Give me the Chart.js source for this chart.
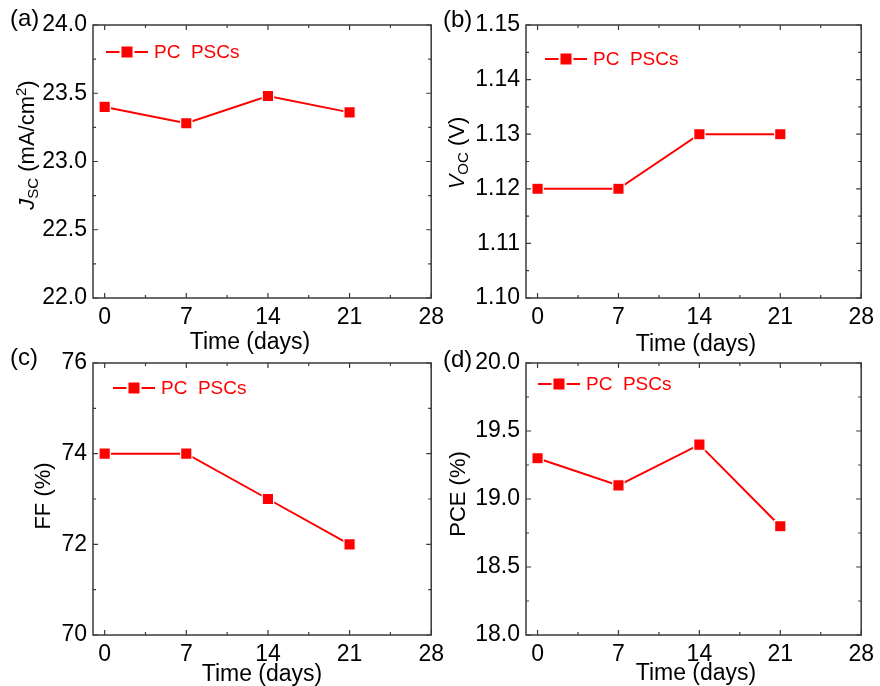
<!DOCTYPE html>
<html>
<head>
<meta charset="utf-8">
<script src="https://cdn.jsdelivr.net/npm/chart.js@4"></script>
<style>
  body { margin: 0; background: #fff; }
  #wrap { position: relative; width: 880px; height: 686px; font-family: "Liberation Sans", Arial, sans-serif; color: #000; }
  canvas { position: absolute; }
  .lbl { position: absolute; font-size: 24px; line-height: 24px; white-space: nowrap; }
  .xt { position: absolute; font-size: 23px; line-height: 22px; white-space: nowrap; transform: translateX(-50%); }
  .yt { position: absolute; font-size: 22px; line-height: 22px; white-space: nowrap; transform: translate(-50%, -50%) rotate(-90deg); }
  .yt sub, .yt sup { font-size: 15px; }
  .yt sub { vertical-align: -4px; }
  .yt sup { vertical-align: 8px; }
</style>
</head>
<body>
<div id="wrap">
  <canvas id="chart-a" width="450" height="345" style="left:0;top:0"></canvas>
  <canvas id="chart-b" width="440" height="345" style="left:440px;top:0"></canvas>
  <canvas id="chart-c" width="450" height="343" style="left:0;top:343px"></canvas>
  <canvas id="chart-d" width="440" height="343" style="left:440px;top:343px"></canvas>

  <div class="lbl" style="left:10px;top:6px">(a)</div>
  <div class="lbl" style="left:443px;top:7px">(b)</div>
  <div class="lbl" style="left:10px;top:345px">(c)</div>
  <div class="lbl" style="left:443px;top:347px">(d)</div>

  <div class="yt" style="left:27px;top:145px"><i>J</i><sub>SC</sub> (mA/cm<sup>2</sup>)</div>
  <div class="yt" style="left:460px;top:153px"><i>V</i><sub>OC</sub> (V)</div>
  <div class="yt" style="left:43px;top:496px">FF (%)</div>
  <div class="yt" style="left:458px;top:494px">PCE (%)</div>

  <div class="xt" style="left:250px;top:330px">Time (days)</div>
  <div class="xt" style="left:696px;top:332px">Time (days)</div>
  <div class="xt" style="left:262px;top:662px">Time (days)</div>
  <div class="xt" style="left:696px;top:661px">Time (days)</div>
</div>

<script>
// data
const days = [0, 7, 14, 21];
const jsc = [23.40, 23.28, 23.48, 23.36];
const voc = [1.12, 1.12, 1.13, 1.13];
const ff = [74, 74, 73, 72];
const pce = [19.3, 19.1, 19.4, 18.8];

// tick labels
const xTicks = [0, 7, 14, 21, 28];
const jscTicks = [22.0, 22.5, 23.0, 23.5, 24.0];
const vocTicks = [1.10, 1.11, 1.12, 1.13, 1.14, 1.15];
const ffTicks = [70, 72, 74, 76];
const pceTicks = [18.0, 18.5, 19.0, 19.5, 20.0];
const legendText = 'PC  PSCs';

const red = '#ff0000';
const frameColor = '#3a3a3a';
const fontName = '"Liberation Sans", Arial, sans-serif';

// frame, inward ticks and the legend
const frameAndTicks = {
  id: 'frameAndTicks',
  afterDraw(chart, args, opts) {
    const ctx = chart.ctx;
    const { left, right, top, bottom } = chart.chartArea;
    const x = chart.scales.x;
    const y = chart.scales.y;
    ctx.save();
    ctx.strokeStyle = frameColor;
    ctx.lineWidth = 1.5;
    ctx.strokeRect(left, top, right - left, bottom - top);

    ctx.lineWidth = 1.2;
    const xs = x.ticks.map(t => t.value);
    const ys = y.ticks.map(t => t.value);
    ctx.beginPath();
    xs.forEach((v, i) => {
      const p = x.getPixelForValue(v);
      ctx.moveTo(p, bottom); ctx.lineTo(p, bottom - 5);
      ctx.moveTo(p, top); ctx.lineTo(p, top + 5);
      if (i < xs.length - 1) {
        const m = x.getPixelForValue((v + xs[i + 1]) / 2);
        ctx.moveTo(m, bottom); ctx.lineTo(m, bottom - 3);
        ctx.moveTo(m, top); ctx.lineTo(m, top + 3);
      }
    });
    ys.forEach((v, i) => {
      const p = y.getPixelForValue(v);
      ctx.moveTo(left, p); ctx.lineTo(left + 5, p);
      ctx.moveTo(right, p); ctx.lineTo(right - 5, p);
      if (i < ys.length - 1) {
        const m = y.getPixelForValue((v + ys[i + 1]) / 2);
        ctx.moveTo(left, m); ctx.lineTo(left + 3, m);
        ctx.moveTo(right, m); ctx.lineTo(right - 3, m);
      }
    });
    ctx.stroke();

    // legend
    const lg = opts.legend;
    ctx.strokeStyle = red;
    ctx.lineWidth = 2;
    ctx.beginPath();
    ctx.moveTo(lg.x, lg.y); ctx.lineTo(lg.x + 42, lg.y);
    ctx.stroke();
    ctx.fillStyle = '#fff';
    ctx.fillRect(lg.x + 13.5, lg.y - 7, 15, 14);
    ctx.fillStyle = red;
    ctx.fillRect(lg.x + 15.5, lg.y - 5.5, 11, 11);
    ctx.font = '19px ' + fontName;
    ctx.textBaseline = 'middle';
    ctx.fillText(legendText, lg.x + 48, lg.y + 1);
    ctx.restore();
  }
};

function makeChart(id, values, yTicks, digits, box, legend) {
  const el = document.getElementById(id);
  return new Chart(el, {
    type: 'line',
    data: {
      datasets: [{
        data: days.map((d, i) => ({ x: d, y: values[i] })),
        borderColor: red,
        borderWidth: 2,
        pointStyle: 'rect',
        pointRadius: 8,
        pointBackgroundColor: red,
        pointBorderColor: '#fff',
        pointBorderWidth: 1.2,
        tension: 0
      }]
    },
    options: {
      responsive: false,
      animation: false,
      devicePixelRatio: 1,
      layout: { padding: { top: box.t, right: el.width - box.r, left: 0, bottom: 0 } },
      plugins: {
        legend: { display: false },
        tooltip: { enabled: false },
        frameAndTicks: { legend: legend }
      },
      scales: {
        x: {
          type: 'linear',
          min: -1,
          max: 28,
          grid: { display: false, drawTicks: false },
          border: { display: false },
          afterBuildTicks: s => { s.ticks = xTicks.map(v => ({ value: v })); },
          afterFit: s => { s.height = el.height - box.b; },
          ticks: { color: '#000', padding: 6, maxRotation: 0, font: { family: fontName, size: 23 } }
        },
        y: {
          min: yTicks[0],
          max: yTicks[yTicks.length - 1],
          grid: { display: false, drawTicks: false },
          border: { display: false },
          afterBuildTicks: s => { s.ticks = yTicks.map(v => ({ value: v })); },
          afterFit: s => { s.width = box.l; },
          ticks: {
            color: '#000',
            padding: 6,
            font: { family: fontName, size: 23 },
            callback: v => v.toFixed(digits)
          }
        }
      }
    },
    plugins: [frameAndTicks]
  });
}

makeChart('chart-a', jsc, jscTicks, 1, { l: 93, t: 25, r: 432, b: 298 }, { x: 106, y: 52 });
makeChart('chart-b', voc, vocTicks, 2, { l: 86, t: 25, r: 426, b: 298 }, { x: 105, y: 59 });
makeChart('chart-c', ff, ffTicks, 0, { l: 93, t: 20, r: 432, b: 292 }, { x: 113, y: 45 });
makeChart('chart-d', pce, pceTicks, 1, { l: 86, t: 20, r: 426, b: 292 }, { x: 98, y: 41 });
</script>
</body>
</html>
